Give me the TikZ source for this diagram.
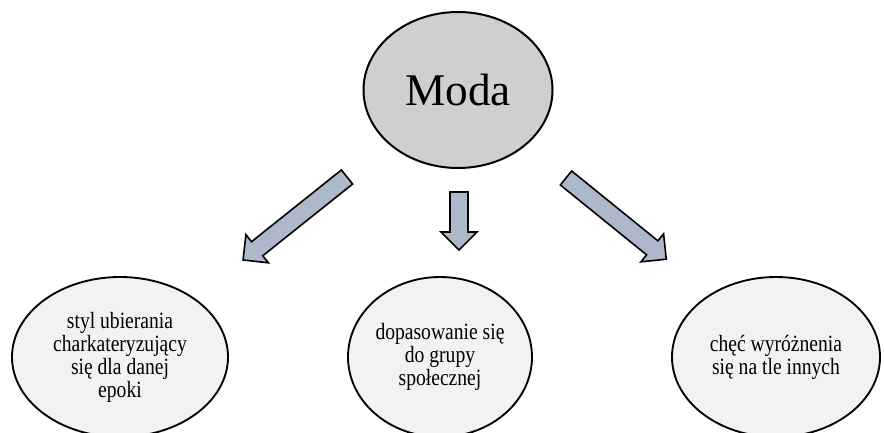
\documentclass[tikz,border=0pt]{standalone}
\usepackage{fontspec}
\setmainfont{Liberation Serif}
\newfontfamily\condserif[FakeStretch=0.84]{Liberation Serif}
\usetikzlibrary{shapes.geometric}
\definecolor{topgray}{HTML}{D0CECE}
\definecolor{botgray}{HTML}{F2F2F2}
\definecolor{arrowblue}{HTML}{ADB9CA}
\tikzset{
  topell/.style={ellipse, draw=black, line width=1.5pt, fill=topgray, minimum width=141.75pt, minimum height=117pt, inner sep=0pt, font=\fontsize{34}{38}\selectfont},
  botell/.style={ellipse, draw=black, line width=1.4pt, fill=botgray, minimum height=120pt, inner sep=0pt, align=center, font=\condserif\fontsize{17.5}{17.25}\selectfont},
  arrowbody/.style={draw=black, line width=1.2pt, fill=arrowblue, line join=miter},
  pics/blockarrow/.style={code={
    \draw[arrowbody] (0,-9) -- ({#1-18},-9) -- ({#1-18},-18) -- (#1,0) -- ({#1-18},18) -- ({#1-18},9) -- (0,9) -- cycle;}}
}
\begin{document}
\begin{tikzpicture}[x=0.75pt,y=-0.75pt]
\useasboundingbox (0,0) rectangle (884,432);
\node[topell] (moda) at (458,90) {Moda};
\node[botell, minimum width=162pt] (left) at (120,357) {styl ubierania\\charkateryzujący\\się dla danej\\epoki};
\node[botell, minimum width=138pt] (mid) at (440,357) {dopasowanie się\\do grupy\\społecznej};
\node[botell, minimum width=156pt] (right) at (776,357) {chęć wyróżnenia\\się na tle innych};
\coordinate (la) at (347,177);
\coordinate (ma) at (459,192);
\coordinate (ra) at (566,178);
\pic[rotate=218.6] at (la) {blockarrow=133};
\pic[rotate=-90] at (ma) {blockarrow=58};
\pic[rotate=-39] at (ra) {blockarrow=129};
\end{tikzpicture}
\end{document}
